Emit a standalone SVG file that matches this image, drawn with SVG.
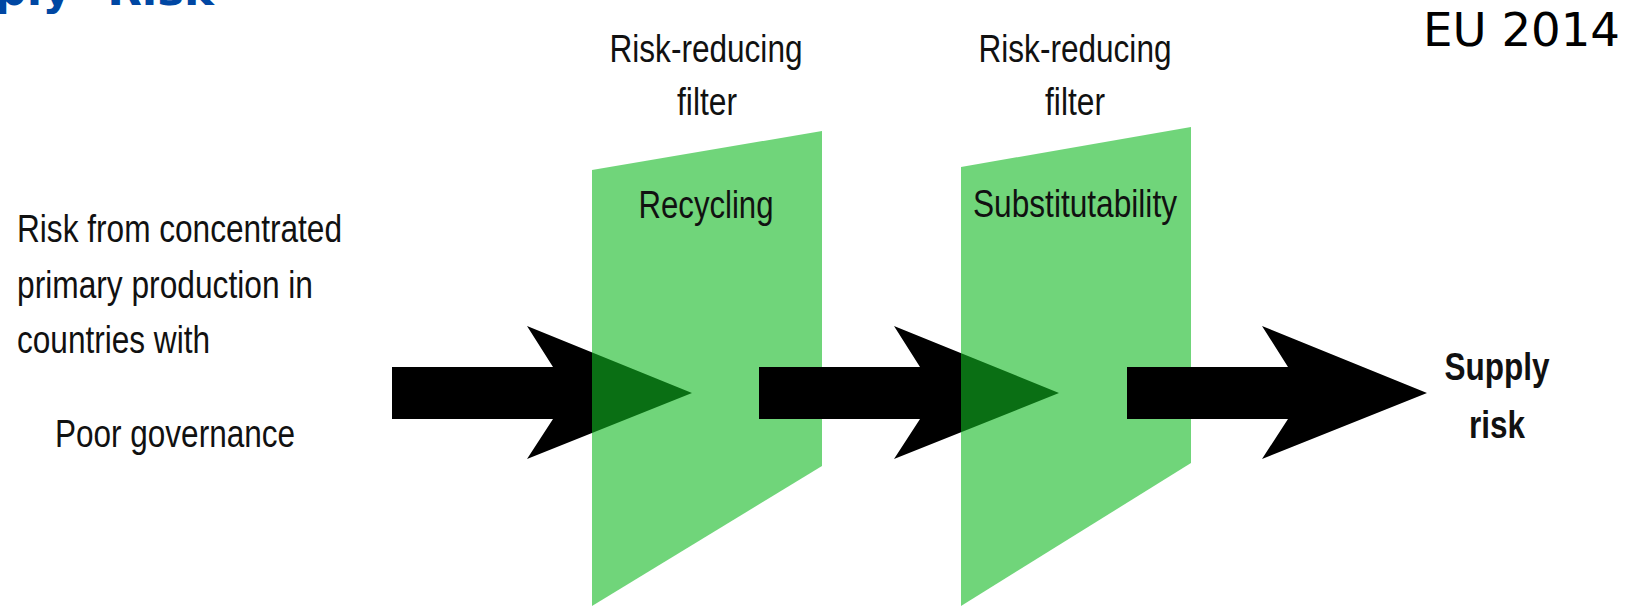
<svg xmlns="http://www.w3.org/2000/svg" width="1639" height="606" viewBox="0 0 1639 606">
  <style>
    .lbl { font-family: "Liberation Sans", Arial, sans-serif; font-size: 38px; fill: #111; }
    .bold { font-family: "Liberation Sans", Arial, sans-serif; font-size: 38px; font-weight: bold; fill: #111; }
    .filter { fill: #11b922; fill-opacity: 0.6; }
    .title { font-family: "DejaVu Sans", Verdana, sans-serif; font-size: 45px; font-weight: bold; fill: #0047a3; }
    .year { font-family: "DejaVu Sans", Verdana, sans-serif; font-size: 46px; fill: #000; }
  </style>
  <defs>
    <linearGradient id="g1" gradientUnits="userSpaceOnUse" x1="392" y1="0" x2="692" y2="0">
      <stop offset="0.6667" stop-color="#000"/>
      <stop offset="0.6667" stop-color="#0a6f14"/>
    </linearGradient>
    <linearGradient id="g2" gradientUnits="userSpaceOnUse" x1="759" y1="0" x2="1059" y2="0">
      <stop offset="0.6733" stop-color="#000"/>
      <stop offset="0.6733" stop-color="#0a6f14"/>
    </linearGradient>
  </defs>
  <rect width="1639" height="606" fill="#fff"/>

  <g id="title">
    <text class="title" x="214" y="5" text-anchor="end" word-spacing="20">Supply Risk</text>
  </g>

  <g id="eu-2014">
    <text class="year" x="1423" y="46" textLength="197" lengthAdjust="spacingAndGlyphs">EU 2014</text>
  </g>

  <g id="source-label">
    <text class="lbl" x="17" y="242" textLength="325" lengthAdjust="spacingAndGlyphs">Risk from concentrated</text>
    <text class="lbl" x="17" y="298" textLength="296" lengthAdjust="spacingAndGlyphs">primary production in</text>
    <text class="lbl" x="17" y="353" textLength="193" lengthAdjust="spacingAndGlyphs">countries with</text>
    <text class="lbl" x="55" y="447" textLength="240" lengthAdjust="spacingAndGlyphs">Poor governance</text>
  </g>

  <g id="filter-recycling">
    <text class="lbl" x="706" y="62" text-anchor="middle" textLength="193" lengthAdjust="spacingAndGlyphs">Risk-reducing</text>
    <text class="lbl" x="707" y="115" text-anchor="middle" textLength="60" lengthAdjust="spacingAndGlyphs">filter</text>
    <polygon class="filter" points="592,170 822,131 822,466 592,606"/>
    <text class="lbl" x="706" y="218" text-anchor="middle" textLength="135" lengthAdjust="spacingAndGlyphs">Recycling</text>
  </g>

  <g id="filter-substitutability">
    <text class="lbl" x="1075" y="62" text-anchor="middle" textLength="193" lengthAdjust="spacingAndGlyphs">Risk-reducing</text>
    <text class="lbl" x="1075" y="115" text-anchor="middle" textLength="60" lengthAdjust="spacingAndGlyphs">filter</text>
    <polygon class="filter" points="961,167 1191,127 1191,463 961,606"/>
    <text class="lbl" x="1075" y="217" text-anchor="middle" textLength="204" lengthAdjust="spacingAndGlyphs">Substitutability</text>
  </g>

  <g id="supply-risk">
    <text class="bold" x="1497" y="380" text-anchor="middle" textLength="105" lengthAdjust="spacingAndGlyphs">Supply</text>
    <text class="bold" x="1497" y="438" text-anchor="middle" textLength="56" lengthAdjust="spacingAndGlyphs">risk</text>
  </g>

  <g id="connectors">
    <polygon fill="url(#g1)" points="392,367 553,367 527,326 692,393 527,459 553,419 392,419"/>
    <polygon fill="url(#g2)" points="759,367 920,367 894,326 1059,393 894,459 920,419 759,419"/>
    <polygon fill="#000" points="1127,367 1288,367 1262,326 1427,393 1262,459 1288,419 1127,419"/>
  </g>
</svg>
